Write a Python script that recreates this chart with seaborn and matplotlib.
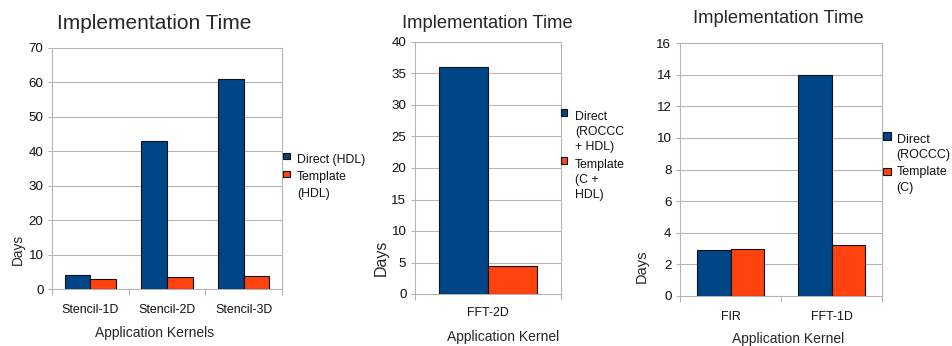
import numpy as np
import pandas as pd
import matplotlib
matplotlib.use("Agg")
import matplotlib.pyplot as plt
from matplotlib.patches import Rectangle
import seaborn as sns

# ---------------- data ----------------
kernels_1 = ["Stencil-1D", "Stencil-2D", "Stencil-3D"]
direct_1 = [4, 43, 61]
template_1 = [3, 3.5, 3.8]
legend_1 = [["Direct (HDL)"], ["Template", "(HDL)"]]
yticks_1 = [0, 10, 20, 30, 40, 50, 60, 70]
xlabel_1 = "Application Kernels"

kernels_2 = ["FFT-2D"]
direct_2 = [36]
template_2 = [4.5]
legend_2 = [["Direct", "(ROCCC", "+ HDL)"], ["Template", "(C +", "HDL)"]]
yticks_2 = [0, 5, 10, 15, 20, 25, 30, 35, 40]
xlabel_2 = "Application Kernel"

kernels_3 = ["FIR", "FFT-1D"]
direct_3 = [2.9, 14]
template_3 = [3, 3.2]
legend_3 = [["Direct", "(ROCCC)"], ["Template", "(C)"]]
yticks_3 = [0, 2, 4, 6, 8, 10, 12, 14, 16]
xlabel_3 = "Application Kernel"

title = "Implementation Time"
ylabel = "Days"

# ---------------- style ----------------
sns.set_style("white")
plt.rcParams["font.family"] = ["Liberation Sans", "DejaVu Sans"]

DIRECT_C = "#004586"
TEMPLATE_C = "#ff420e"
GRID_C = "#b3b3b3"
EDGE_C = "#111111"

W, H = 952, 346
fig = plt.figure(figsize=(W / 100, H / 100), dpi=100)


def fx(px):
    return px / W


def fy(py):
    return 1 - py / H


def axes_at(l, t, r, b):
    return fig.add_axes([l / W, 1 - b / H, (r - l) / W, (b - t) / H])


def panel(ax, cats, direct, template, yticks, xpad):
    n = len(cats)
    df = pd.DataFrame({
        "Kernel": list(cats) * 2,
        "Days": list(direct) + list(template),
        "Method": ["Direct"] * n + ["Template"] * n,
    })
    sns.barplot(data=df, x="Kernel", y="Days", hue="Method",
                palette=[DIRECT_C, TEMPLATE_C], saturation=1, width=0.67,
                edgecolor=EDGE_C, linewidth=0.8, legend=False, ax=ax, zorder=3)
    ax.set_xlim(-0.5, n - 0.5)
    ax.set_ylim(yticks[0], yticks[-1])
    ax.set_yticks(yticks)
    ax.set_yticklabels([str(v) for v in yticks])
    ax.set_xticks(range(n))
    ax.set_xticklabels(cats)
    ax.set_xticks(np.arange(n + 1) - 0.5, minor=True)
    ax.tick_params(axis="x", which="major", length=0, pad=xpad,
                   labelsize=8.9, labelcolor="#111111")
    ax.tick_params(axis="x", which="minor", length=4.5, width=0.75,
                   color=GRID_C, direction="out", bottom=True)
    ax.tick_params(axis="y", which="major", length=3, width=0.75,
                   color=GRID_C, pad=3.2, labelsize=9.6, labelcolor="#111111",
                   left=True)
    ax.grid(axis="y", color=GRID_C, linewidth=0.75)
    ax.grid(axis="x", visible=False)
    ax.set_axisbelow(True)
    ax.set_xlabel("")
    ax.set_ylabel("")
    for s in ax.spines.values():
        s.set_color(GRID_C)
        s.set_linewidth(0.75)
        s.set_visible(True)


def legend(entries, colors, patch_x, patch_tops, text_x, baselines, size, psize):
    k = 0
    for entry, color, ptop in zip(entries, colors, patch_tops):
        fig.patches.append(Rectangle((fx(patch_x), fy(ptop + psize)),
                                     psize / W, psize / H,
                                     transform=fig.transFigure,
                                     facecolor=color, edgecolor=EDGE_C,
                                     linewidth=0.8))
        for line in entry:
            fig.text(fx(text_x), fy(baselines[k]), line, fontsize=size,
                     va="baseline", ha="left", color="#111111")
            k += 1


# ---------------- panel 1 ----------------
ax1 = axes_at(52, 48, 282, 289)
panel(ax1, kernels_1, direct_1, template_1, yticks_1, 10.6)
fig.text(fx(154), fy(29.3), title, fontsize=15, ha="center", va="baseline")
fig.text(fx(155), fy(337), xlabel_1, fontsize=10, ha="center", va="baseline")
fig.text(fx(18), fy(249.5), ylabel, fontsize=9.8, rotation=90,
         ha="center", va="center")
legend(legend_1, [DIRECT_C, TEMPLATE_C], 283.3, [152.7, 170.7], 297,
       [163.3, 180.0, 197.3], 8.8, 6.7)

# ---------------- panel 2 ----------------
ax2 = axes_at(415, 42, 561, 294)
panel(ax2, kernels_2, direct_2, template_2, yticks_2, 9.6)
fig.text(fx(487.5), fy(27.7), title, fontsize=13.2, ha="center", va="baseline")
fig.text(fx(503.3), fy(341), xlabel_2, fontsize=10, ha="center", va="baseline")
fig.text(fx(381), fy(258), ylabel, fontsize=11.5, rotation=90,
         ha="center", va="center")
legend(legend_2, [DIRECT_C, TEMPLATE_C], 561, [109.3, 157.3], 575,
       [120, 135, 150, 168.3, 183.3, 198.3], 8.8, 6.4)

# ---------------- panel 3 ----------------
ax3 = axes_at(680, 43, 882, 296)
panel(ax3, kernels_3, direct_3, template_3, yticks_3, 10.6)
fig.text(fx(778), fy(23), title, fontsize=13.2, ha="center", va="baseline")
fig.text(fx(788.3), fy(342.7), xlabel_3, fontsize=10, ha="center", va="baseline")
fig.text(fx(641.7), fy(266), ylabel, fontsize=10.5, rotation=90,
         ha="center", va="center")
legend(legend_3, [DIRECT_C, TEMPLATE_C], 883.3, [132.3, 167.7], 896.7,
       [142.7, 157.7, 175.5, 191], 9.0, 7.5)

fig.savefig("out.png", dpi=100, facecolor="white")
